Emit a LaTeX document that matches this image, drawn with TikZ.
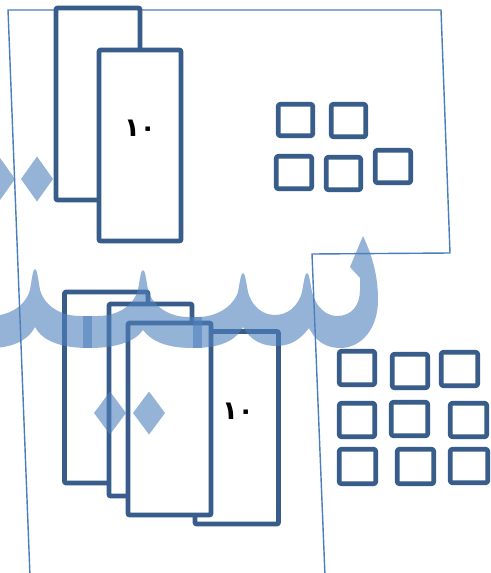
\documentclass[tikz,border=0pt]{standalone}
\usepackage{fontspec}
\newfontfamily\arabicfont[Script=Arabic]{DejaVu Sans}
\definecolor{darkbox}{HTML}{385D8A}
\definecolor{thinblue}{HTML}{4A7EBB}
\definecolor{wavecol}{HTML}{4F81BD}
\tikzset{
  bigrect/.style={draw=darkbox, line width=4.6pt, fill=white, rounded corners=1pt, line join=round, inner sep=0pt},
  smallsq/.style={draw=darkbox, line width=4.6pt, fill=white, rounded corners=2pt, line join=round, inner sep=0pt},
  thinline/.style={draw=thinblue, line width=1.4pt},
  wavefill/.style={fill=wavecol, fill opacity=0.6, draw=none},
  numtext/.style={font=\arabicfont\bfseries\fontsize{26}{30}\selectfont, text=black, inner sep=0pt}
}
\begin{document}
\begin{tikzpicture}[x=1pt,y=-1pt]
\useasboundingbox (0,0) rectangle (490,573);
\clip (0,0) rectangle (490,573);
\fill[white] (0,0) rectangle (490,573);

% thin outline
\coordinate (p0) at (30,576);
\coordinate (p1) at (8,10);
\coordinate (p2) at (441,10);
\coordinate (p3) at (450,253);
\coordinate (p4) at (312,254);
\coordinate (p5) at (325,576);
\draw[thinline, line join=miter] (p0) -- (p1) -- (p2) -- (p3) -- (p4) -- (p5);

% top pair of rectangles
\node[bigrect, minimum width=84pt, minimum height=192pt] (A) at (98,104) {};
\node[bigrect, minimum width=82pt, minimum height=191pt] (B) at (140,145.5) {};
\node[numtext] (tB) at (140,128) {١٠};

% bottom group of rectangles
\node[bigrect, minimum width=83.5pt, minimum height=191pt] (C) at (106.25,387.5) {};
\node[bigrect, minimum width=83pt, minimum height=192pt] (D) at (150.5,400) {};
\node[bigrect, minimum width=83.5pt, minimum height=192.5pt] (E) at (236.75,427.75) {};
\node[bigrect, minimum width=83pt, minimum height=192pt] (F) at (169.5,419) {};
\node[numtext] (tE) at (238,411) {١٠};

% top-right squares
\node[smallsq, minimum width=34.5pt, minimum height=31.5pt] (s1) at (295.5,120) {};
\node[smallsq, minimum width=34.5pt, minimum height=32.5pt] (s2) at (348.5,120.5) {};
\node[smallsq, minimum width=35.5pt, minimum height=32.5pt] (s3) at (294,172.5) {};
\node[smallsq, minimum width=34.5pt, minimum height=32.5pt] (s4) at (343.5,173.5) {};
\node[smallsq, minimum width=35.5pt, minimum height=32.5pt] (s5) at (393,166.5) {};

% bottom-right squares
\node[smallsq, minimum width=35.5pt, minimum height=33.5pt] (qa) at (357,368) {};
\node[smallsq, minimum width=35.5pt, minimum height=33.5pt] (qb) at (410,371) {};
\node[smallsq, minimum width=36.5pt, minimum height=33.5pt] (qc) at (459.5,369) {};
\node[smallsq, minimum width=35.5pt, minimum height=33.5pt] (qd) at (357,420) {};
\node[smallsq, minimum width=36.5pt, minimum height=33.5pt] (qe) at (409.5,419) {};
\node[smallsq, minimum width=36.5pt, minimum height=33.5pt] (qf) at (468.5,420) {};
\node[smallsq, minimum width=36.5pt, minimum height=34.5pt] (qg) at (357.5,466.5) {};
\node[smallsq, minimum width=36.5pt, minimum height=34.5pt] (qh) at (415.5,466.5) {};
\node[smallsq, minimum width=37.5pt, minimum height=33.5pt] (qi) at (469,466) {};

% big translucent Arabic-like stroke
\path[wavefill]
  (-10,316)
  .. controls (8,316) and (25,307) .. (30,290)
  .. controls (32,278) and (33,269) .. (35,269)
  .. controls (37,269) and (38,278) .. (40,290)
  .. controls (45,307) and (62,316) .. (80,316)
  -- (98,316)
  .. controls (116,316) and (133,307) .. (138,290)
  .. controls (140,278) and (141,270) .. (143,270)
  .. controls (145,270) and (146,278) .. (148,290)
  .. controls (153,307) and (170,317) .. (188,317)
  -- (198,317)
  .. controls (216,317) and (233,307) .. (238,292)
  .. controls (240,281) and (241,273) .. (243,273)
  .. controls (245,273) and (246,281) .. (248,292)
  .. controls (252,307) and (263,315) .. (275,315)
  .. controls (287,315) and (298,307) .. (302,292)
  .. controls (304,281) and (305,273) .. (307,273)
  .. controls (309,273) and (310,281) .. (312,292)
  .. controls (316,307) and (326,316) .. (337,316)
  .. controls (352,316) and (360,305) .. (360,290)
  -- (360,278) -- (350,267) -- (363,236)
  .. controls (372,255) and (378,275) .. (378,300)
  .. controls (378,328) and (362,348) .. (340,348)
  .. controls (325,348) and (315,340) .. (309,328)
  .. controls (300,340) and (290,346) .. (276,346)
  .. controls (262,346) and (250,340) .. (243,327)
  .. controls (235,342) and (218,348) .. (193,348)
  .. controls (168,348) and (152,342) .. (143,330)
  .. controls (135,342) and (115,348) .. (89,348)
  .. controls (63,348) and (43,342) .. (35,327)
  .. controls (27,342) and (10,348) .. (-10,348)
  -- cycle;
% overlap stripes
\path[wavefill] (83,316) rectangle (92,348);
\path[wavefill] (193,317) rectangle (202,348);

% diamond dots
\path[wavefill] (-17,179) -- (-1,156.5) -- (15,179) -- (-1,201.5) -- cycle;
\path[wavefill] (21,179) -- (37,156.5) -- (53,179) -- (37,201.5) -- cycle;
\path[wavefill] (94,413) -- (110,391.5) -- (126,413) -- (110,434.5) -- cycle;
\path[wavefill] (133,413) -- (149,391.5) -- (165,413) -- (149,434.5) -- cycle;
\end{tikzpicture}
\end{document}
